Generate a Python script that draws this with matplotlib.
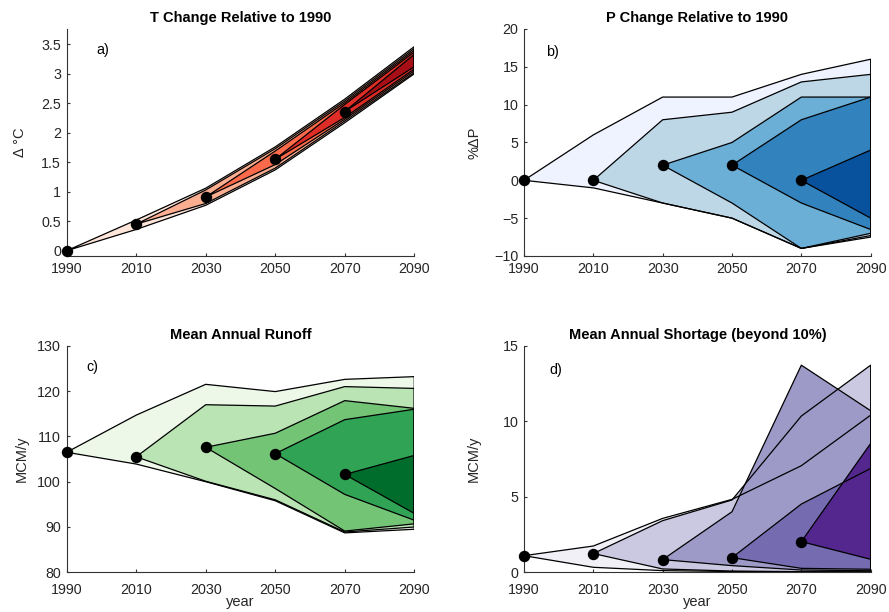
import matplotlib.pyplot as plt
from matplotlib.ticker import StrMethodFormatter

plt.rcParams['font.family'] = ['Liberation Sans', 'DejaVu Sans']

years = [1990, 2010, 2030, 2050, 2070, 2090]

# a) temperature change, one fan per starting decade
t_start = [0.0, 0.45, 0.91, 1.55, 2.36]
t_upper = [[0.52, 1.06, 1.76, 2.57, 3.46], [1.03, 1.73, 2.54, 3.43],
           [1.69, 2.51, 3.40], [2.48, 3.37], [3.33]]
t_lower = [[0.36, 0.77, 1.37, 2.17, 3.00], [0.80, 1.40, 2.20, 3.02],
           [1.46, 2.23, 3.05], [2.26, 3.08], [3.12]]

# b) precipitation change
p_start = [0, 0, 2, 2, 0]
p_upper = [[6, 11, 11, 14, 16], [8, 9, 13, 14], [5, 11, 11], [8, 11], [4]]
p_lower = [[-1, -3, -5, -9, -7.5], [-3, -5, -9, -7.3], [-3, -9, -7],
           [-3, -6.5], [-5]]

# c) mean annual runoff
r_start = [106.5, 105.5, 107.6, 106.2, 101.6]
r_upper = [[114.7, 121.5, 119.9, 122.6, 123.2], [117.0, 116.7, 121.0, 120.6],
           [110.7, 117.9, 116.2], [113.7, 116.0], [105.8]]
r_lower = [[103.9, 100.0, 95.8, 88.7, 89.5], [100.1, 96.0, 88.9, 90.0],
           [98.5, 89.1, 90.7], [97.2, 91.5], [93.0]]

# d) mean annual shortage
s_start = [1.10, 1.24, 0.84, 0.97, 2.03]
s_upper = [[1.74, 3.57, 4.83, 7.06, 10.41], [3.42, 4.79, 10.35, 13.72],
           [4.01, 13.72, 10.7], [4.52, 6.88], [8.54]]
s_lower = [[0.33, 0.11, 0.05, 0.03, 0.02], [0.22, 0.08, 0.04, 0.03],
           [0.44, 0.15, 0.1], [0.26, 0.2], [0.86]]

reds = ['#fee5d9', '#fcae91', '#fb6a4a', '#de2d26', '#a50f15']
blues = ['#eff3ff', '#bdd7e7', '#6baed6', '#3182bd', '#08519c']
greens = ['#edf8e9', '#bae4b3', '#74c476', '#31a354', '#006d2c']
purples = ['#f2f0f7', '#cbc9e2', '#9e9ac8', '#756bb1', '#54278f']

axcol = '#333333'


def fan_panel(ax, start, upper, lower, colors, xpad=4):
    outlines = []
    for i in range(len(start)):
        xs = years[i:]
        up = [start[i]] + upper[i]
        lo = [start[i]] + lower[i]
        px = xs + xs[::-1]
        py = up + lo[::-1]
        ax.fill(px, py, color=colors[i], lw=0)
        outlines.append((px + px[:1], py + py[:1]))
    # edges go on top of all the fills
    for px, py in outlines:
        ax.plot(px, py, color='k', lw=0.9)
    ax.plot(years[:len(start)], start, 'o', color='k', ms=7.2, clip_on=False, zorder=5)
    ax.set_xlim(1990, 2090)
    ax.set_xticks(years)
    for side in ['top', 'right']:
        ax.spines[side].set_visible(False)
    for side in ['left', 'bottom']:
        ax.spines[side].set_color(axcol)
        ax.spines[side].set_linewidth(0.8)
    ax.tick_params(direction='in', length=2.5, width=0.8, color=axcol,
                   labelcolor='#262626', labelsize=10.3, pad=4)
    ax.tick_params(axis='x', pad=xpad)
    ax.yaxis.set_major_formatter(StrMethodFormatter('{x:g}'))


fig = plt.figure(figsize=(8.89, 6.12), dpi=100)
ax_a = fig.add_axes([0.075, 0.5817, 0.391, 0.371])
ax_b = fig.add_axes([0.5894, 0.5817, 0.390, 0.371])
ax_c = fig.add_axes([0.075, 0.0649, 0.391, 0.370])
ax_d = fig.add_axes([0.5894, 0.0649, 0.390, 0.370])

fan_panel(ax_a, t_start, t_upper, t_lower, reds)
ax_a.set_ylim(-0.09, 3.76)
ax_a.set_yticks([0, 0.5, 1, 1.5, 2, 2.5, 3, 3.5])
ax_a.set_title('T Change Relative to 1990', fontsize=10.5, fontweight='bold', pad=5)
ax_a.set_ylabel('Δ °C', fontsize=10.5, color='#262626', labelpad=10)
ax_a.text(0.086, 0.907, 'a)', transform=ax_a.transAxes, fontsize=10.3, va='center')

fan_panel(ax_b, p_start, p_upper, p_lower, blues)
ax_b.set_ylim(-10, 20)
ax_b.set_yticks([-10, -5, 0, 5, 10, 15, 20])
ax_b.set_title('P Change Relative to 1990', fontsize=10.5, fontweight='bold', pad=5)
ax_b.set_ylabel('%ΔP', fontsize=10.5, color='#262626', labelpad=9)
ax_b.text(0.063, 0.90, 'b)', transform=ax_b.transAxes, fontsize=10.3, va='center')

fan_panel(ax_c, r_start, r_upper, r_lower, greens, xpad=7.5)
ax_c.set_ylim(80, 130)
ax_c.set_yticks([80, 90, 100, 110, 120, 130])
ax_c.set_title('Mean Annual Runoff', fontsize=10.5, fontweight='bold', pad=5)
ax_c.set_ylabel('MCM/y', fontsize=10.5, color='#262626', labelpad=6)
ax_c.set_xlabel('year', fontsize=10.5, color='#262626', labelpad=-1)
ax_c.text(0.058, 0.907, 'c)', transform=ax_c.transAxes, fontsize=10.3, va='center')

fan_panel(ax_d, s_start, s_upper, s_lower, purples, xpad=7.5)
ax_d.set_ylim(0, 15)
ax_d.set_yticks([0, 5, 10, 15])
ax_d.set_title('Mean Annual Shortage (beyond 10%)', fontsize=10.5, fontweight='bold', pad=5)
ax_d.set_ylabel('MCM/y', fontsize=10.5, color='#262626', labelpad=16)
ax_d.set_xlabel('year', fontsize=10.5, color='#262626', labelpad=-1)
ax_d.text(0.072, 0.893, 'd)', transform=ax_d.transAxes, fontsize=10.3, va='center')

fig.savefig('out.png', dpi=100)
